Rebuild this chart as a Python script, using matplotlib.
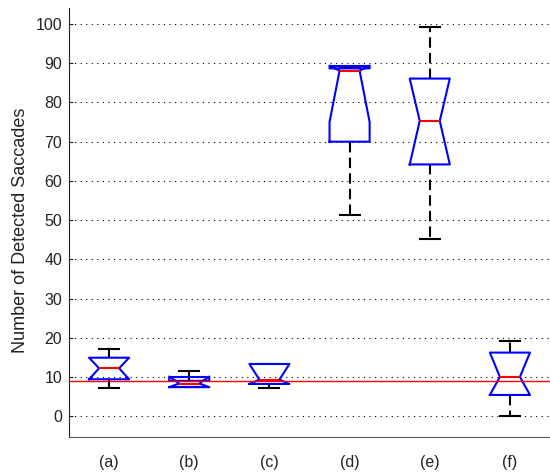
import matplotlib
matplotlib.use('Agg')
import matplotlib.pyplot as plt

plt.rcParams['font.family'] = ['Liberation Sans', 'DejaVu Sans']

# ---------------------------
# data (box statistics per condition)
# ---------------------------
labels = ['(a)', '(b)', '(c)', '(d)', '(e)', '(f)']
whislo = [7.1, 7.4, 7.1, 51.3, 45.2, 0.1]
q1 = [9.4, 7.4, 8.2, 70.0, 64.2, 5.4]
med = [12.2, 8.3, 9.3, 88.1, 75.3, 10.0]
q3 = [14.9, 9.0, 13.3, 88.7, 86.1, 16.2]
whishi = [17.1, 11.4, 13.3, 88.7, 99.3, 19.2]
cilo = [9.4, 7.4, 8.2, 75.0, 64.2, 5.4]
cihi = [14.9, 10.1, 13.3, 89.4, 86.1, 16.2]
ref_level = 8.9

stats = []
for i in range(len(labels)):
    stats.append(dict(label=labels[i], whislo=whislo[i], q1=q1[i], med=med[i],
                      q3=q3[i], whishi=whishi[i], cilo=cilo[i], cihi=cihi[i],
                      fliers=[]))

fig = plt.figure(figsize=(5.5, 4.73), dpi=100)
ax = fig.add_axes([69 / 550, 1 - 436.5 / 473, 1 - 69 / 550, (436.5 - 8) / 473])

positions = list(range(1, len(labels) + 1))
box_w = 0.5
ax.bxp(stats, positions=positions, widths=box_w, capwidths=box_w / 2,
       shownotches=True, showfliers=False,
       boxprops=dict(color='blue', linewidth=1.5, zorder=3),
       medianprops=dict(color='red', linewidth=1.5, zorder=4),
       whiskerprops=dict(color='black', linewidth=1.5, linestyle=(0, (5, 2.5)), zorder=2),
       capprops=dict(color='black', linewidth=1.5, zorder=2))

# notch flare tops beyond the box (matlab style)
for p, hi, top, lo, bot in zip(positions, cihi, q3, cilo, q1):
    if hi > top:
        ax.hlines(hi, p - box_w / 2, p + box_w / 2, color='blue', linewidth=1.5, zorder=3)
    if lo < bot:
        ax.hlines(lo, p - box_w / 2, p + box_w / 2, color='blue', linewidth=1.5, zorder=3)

ax.axhline(ref_level, color='red', linewidth=1.0, zorder=5)

ax.set_xlim(0.5, 6.5)
ax.set_ylim(-5.2, 104.1)
ax.set_yticks(range(0, 101, 10))
ax.set_xticks(positions)
ax.set_xticklabels(labels)

ax.yaxis.grid(True, color='black', linestyle=(0, (1, 4)), linewidth=0.8)
ax.set_axisbelow(True)

ax.spines['top'].set_visible(False)
ax.spines['right'].set_visible(False)
ax.spines['left'].set_color('#222222')
ax.spines['bottom'].set_color('#555555')
ax.tick_params(axis='y', direction='in', length=3, labelsize=11.5, pad=5, colors='#222222')
ax.tick_params(axis='x', direction='in', length=0, labelsize=11.5, pad=13, colors='#222222')

ax.set_ylabel('Number of Detected Saccades', fontsize=13, color='#222222')
ax.yaxis.set_label_coords(-0.084, 0.482)

fig.savefig('out.png', dpi=100)
